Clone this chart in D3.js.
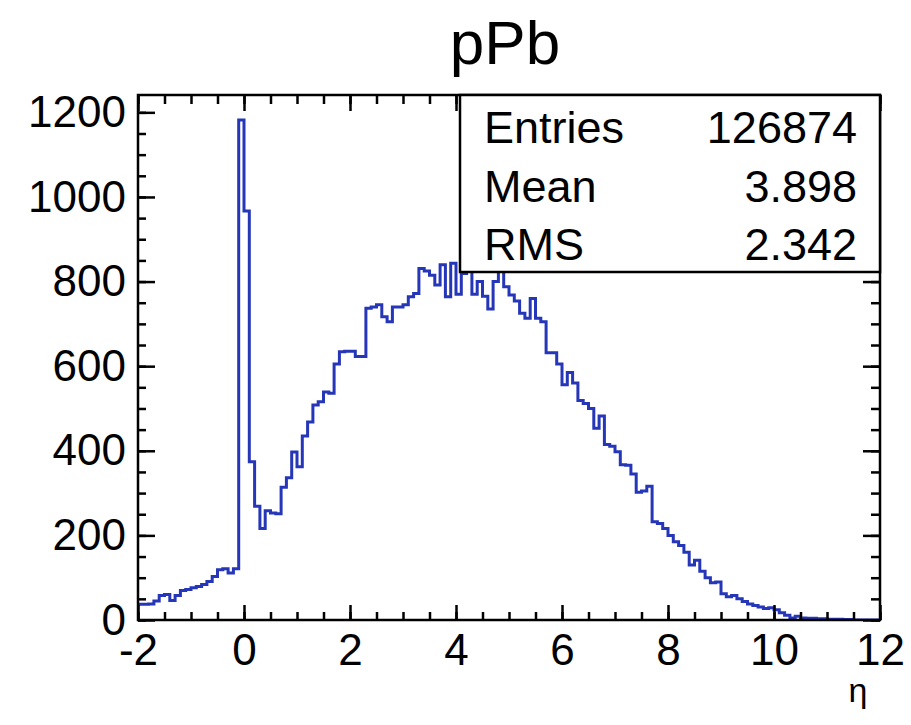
<!DOCTYPE html>
<html>
<head>
<meta charset="utf-8">
<script src="https://cdn.jsdelivr.net/npm/d3@7"></script>
<style>
  body { margin: 0; background: #fff; }
  text { font-family: "Liberation Sans", Arial, Helvetica, sans-serif; fill: #000; }
</style>
</head>
<body>
<div id="main"></div>
<script>
/* size */
const width = 911, height = 725;

/* data: eta histogram, 140 bins of 0.1 from -2 to 12 */
const etaMin = -2, etaMax = 12, binWidth = 0.1;
const counts = [
  37, 37, 38, 45, 58, 60, 46, 58, 70, 72,
  76, 79, 84, 91, 103, 119, 121, 111, 121, 1182,
  967, 374, 269, 216, 258, 253, 251, 314, 336, 397,
  362, 435, 468, 508, 516, 539, 536, 605, 634, 635,
  635, 623, 623, 737, 740, 745, 717, 705, 740, 740,
  745, 764, 772, 831, 825, 815, 792, 840, 764, 843,
  770, 819, 840, 770, 800, 765, 735, 800, 830, 788,
  768, 754, 725, 713, 760, 713, 705, 632, 632, 605,
  556, 585, 560, 519, 512, 500, 453, 482, 415, 411,
  398, 367, 366, 345, 302, 305, 316, 232, 228, 216,
  200, 185, 176, 160, 130, 141, 115, 100, 88, 90,
  62, 55, 58, 50, 44, 38, 34, 31, 27, 29,
  24, 17, 11, 5, 9, 5, 4, 4, 3, 3,
  2, 2, 2, 1, 1, 0, 0, 0, 0, 0
];
const xTicks = [-2, 0, 2, 4, 6, 8, 10, 12];
const yTicks = [0, 200, 400, 600, 800, 1000, 1200];
const statNames = ["Entries", "Mean", "RMS"];
const statValues = ["126874", "3.898", "2.342"];
const title = "pPb", xTitle = "η";
const yMax = 1241;

/* scales */
const x = d3.scaleLinear().domain([etaMin, etaMax]).range([138, 880]);
const y = d3.scaleLinear().domain([0, yMax]).range([620, 95]);

const svg = d3.select("#main").append("svg")
  .attr("width", width).attr("height", height);

svg.append("clipPath").attr("id", "frameClip")
  .append("rect")
  .attr("x", x(etaMin)).attr("y", y(yMax))
  .attr("width", x(etaMax) - x(etaMin)).attr("height", y(0) - y(yMax));

/* histogram outline */
const pts = counts.map((c, i) => [etaMin + i * binWidth, c]);
pts.push([etaMin + counts.length * binWidth, counts[counts.length - 1]]);
const line = d3.line()
  .x(d => x(d[0]))
  .y(d => y(d[1]))
  .curve(d3.curveStepAfter);

svg.append("path")
  .attr("d", line(pts))
  .attr("clip-path", "url(#frameClip)")
  .attr("fill", "none")
  .attr("stroke", "#2536b8")
  .attr("stroke-width", 3);

/* axes: ticks inside the frame, on all four sides */
const minorX = d3.range(etaMin, etaMax + 0.001, 0.5);
const minorY = d3.range(0, yMax, 50);
const plain = d => String(d); // ROOT prints a hyphen, not a minus sign

function axisGroup(axis, tx, ty) {
  const g = svg.append("g").attr("transform", `translate(${tx},${ty})`).call(axis);
  g.select(".domain").remove();
  g.selectAll("line").attr("stroke", "#000").attr("stroke-width", 2.5);
  return g;
}

// minor ticks
axisGroup(d3.axisBottom(x).tickValues(minorX).tickSize(-8).tickFormat(""), 0, y(0));
axisGroup(d3.axisTop(x).tickValues(minorX).tickSize(-9).tickFormat(""), 0, y(yMax));
axisGroup(d3.axisLeft(y).tickValues(minorY).tickSize(-8).tickFormat(""), x(etaMin), 0);
axisGroup(d3.axisRight(y).tickValues(minorY).tickSize(-9).tickFormat(""), x(etaMax), 0);

// major ticks + labels
const xAx = axisGroup(d3.axisBottom(x).tickValues(xTicks).tickSize(-15).tickPadding(14)
  .tickFormat(plain), 0, y(0));
xAx.selectAll("text").attr("font-size", 44);
axisGroup(d3.axisTop(x).tickValues(xTicks).tickSize(-16).tickFormat(""), 0, y(yMax));
const yAx = axisGroup(d3.axisLeft(y).tickValues(yTicks).tickSize(-17).tickPadding(12)
  .tickFormat(plain), x(etaMin), 0);
yAx.selectAll("text").attr("font-size", 44);
axisGroup(d3.axisRight(y).tickValues(yTicks).tickSize(-17).tickFormat(""), x(etaMax), 0);

/* frame */
svg.append("rect")
  .attr("x", x(etaMin)).attr("y", y(yMax))
  .attr("width", x(etaMax) - x(etaMin)).attr("height", y(0) - y(yMax))
  .attr("fill", "none").attr("stroke", "#000").attr("stroke-width", 2.5);

/* stats box */
const box = svg.append("g");
box.append("rect")
  .attr("x", 460).attr("y", 95).attr("width", 420).attr("height", 177)
  .attr("fill", "#fff").attr("stroke", "#000").attr("stroke-width", 2.5);
statNames.forEach((n, i) => {
  box.append("text").attr("x", 484).attr("y", 143 + i * 58.5)
    .attr("font-size", 45).text(n);
  box.append("text").attr("x", 857).attr("y", 143 + i * 58.5)
    .attr("font-size", 45).attr("text-anchor", "end").text(statValues[i]);
});

/* titles */
svg.append("text").attr("x", 505).attr("y", 64)
  .attr("text-anchor", "middle").attr("font-size", 62).text(title);
svg.append("text").attr("x", 858).attr("y", 702)
  .attr("text-anchor", "middle").attr("font-size", 34).text(xTitle);
</script>
</body>
</html>
